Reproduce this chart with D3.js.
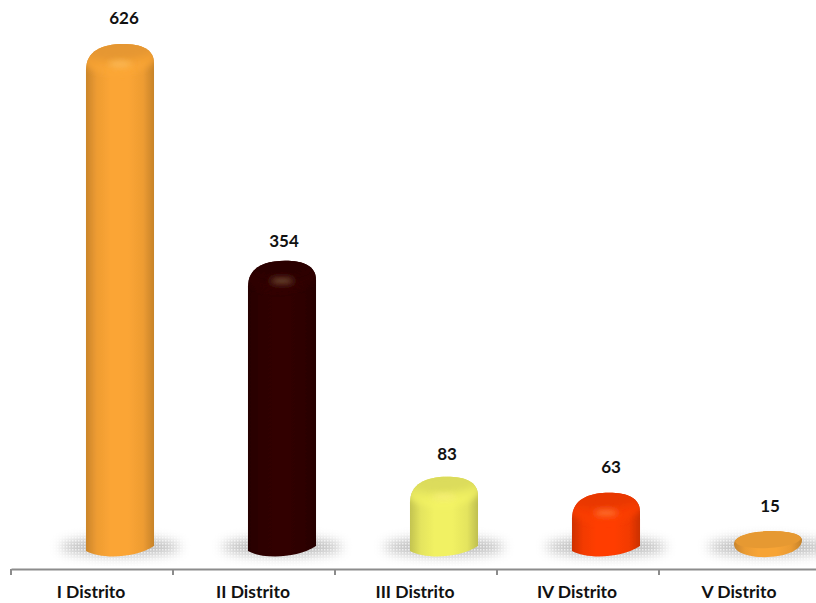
<!DOCTYPE html>
<html>
<head>
<meta charset="utf-8">
<script src="https://cdn.jsdelivr.net/npm/d3@7"></script>
<style>
html, body { margin: 0; padding: 0; background: #fff; }
svg { display: block; }
text { font-family: Lato, "Open Sans", sans-serif; font-weight: 700; fill: #111; }
</style>
</head>
<body>
<div id="graph"></div>
<script>
"use strict";
let categories = ["I Distrito", "II Distrito", "III Distrito", "IV Distrito", "V Distrito"];
let values = [626, 354, 83, 63, 15];
let barColors = ["#fba535", "#300000", "#f1f163", "#ff3d00", "#f7a436"];

let width = 816;
let height = 603;
let axisY = 569;

// the labels in the picture do not sit at one fixed distance from their bars
let labelNudgeX = [1, -1, 0, 2, -1];
let labelNudgeY = [-1, 5, 2, -1, 0];

let svg = d3.select("#graph")
	.append("svg")
	.attr("width", width)
	.attr("height", height);

let x = d3.scaleBand().domain(categories).range([11, 821]);
let y = d3.scaleLinear().domain([0, 626]).range([543, 44]);
let barWidth = x.bandwidth() * 0.42;
let barShift = 28; // the 3d bars sit right of the category centre

function barX(category)
{
	return x(category) + x.bandwidth() / 2 + barShift;
}

let defs = svg.append("defs");

let blur = defs.append("filter").attr("id", "blur6")
	.attr("x", "-30%").attr("y", "-100%").attr("width", "160%").attr("height", "300%");
blur.append("feGaussianBlur").attr("stdDeviation", 6);

let softBlur = defs.append("filter").attr("id", "blur3")
	.attr("x", "-50%").attr("y", "-100%").attr("width", "200%").attr("height", "300%");
softBlur.append("feGaussianBlur").attr("stdDeviation", 3);

let edgeBlur = defs.append("filter").attr("id", "blur1");
edgeBlur.append("feGaussianBlur").attr("stdDeviation", 0.6);

let dots = defs.append("pattern").attr("id", "dots")
	.attr("width", 3).attr("height", 3).attr("patternUnits", "userSpaceOnUse");
dots.append("rect").attr("width", 3).attr("height", 3).attr("fill", "#b8b8b8");
dots.append("rect").attr("width", 1.5).attr("height", 1.5).attr("fill", "#e6e6e6");

// side shading of each bar
categories.forEach(function (category, i)
{
	let base = d3.color(barColors[i]);
	let gradient = defs.append("linearGradient").attr("id", "side" + i);
	let stops = [
		[0, base.darker(0.6)],
		[0.16, base.darker(0.15)],
		[0.36, base],
		[0.62, base],
		[0.84, base.darker(0.15)],
		[1, base.darker(0.65)]
	];
	stops.forEach(function (s)
	{
		gradient.append("stop").attr("offset", s[0]).attr("stop-color", s[1]);
	});

	let shoulder = defs.append("linearGradient").attr("id", "shoulder" + i)
		.attr("x1", 0).attr("x2", 0).attr("y1", 0).attr("y2", 1);
	shoulder.append("stop").attr("offset", 0).attr("stop-color", base.darker(0.4));
	shoulder.append("stop").attr("offset", 0.6).attr("stop-color", base.darker(0.1));
	shoulder.append("stop").attr("offset", 1).attr("stop-color", base.brighter(0.08));
});

function isFlat(value)
{
	return y(0) - y(value) < 30;
}

function barPath(category, value)
{
	let cx = barX(category);
	let left = cx - barWidth / 2;
	let right = cx + barWidth / 2;
	let top = y(value);
	let base = y(0);
	if (isFlat(value))
	{
		return "M" + left + "," + (top + 13)
			+ "C" + left + "," + (top + 32) + " " + right + "," + (top + 30) + " " + right + "," + (top + 9)
			+ "C" + right + "," + (top + 3) + " " + (right - 14) + "," + top + " " + (cx + 3) + "," + top
			+ "C" + (cx - 18) + "," + top + " " + left + "," + (top + 5) + " " + left + "," + (top + 13)
			+ "Z";
	}
	let bottom = base + 16;
	return "M" + left + "," + (base + 8)
		+ "C" + (left + 14) + "," + bottom + " " + (right - 20) + "," + bottom + " " + right + "," + (base + 3)
		+ "L" + right + "," + (top + 19)
		+ "C" + right + "," + (top + 5) + " " + (right - 13) + "," + top + " " + (cx + 3) + "," + top
		+ "C" + (cx - 18) + "," + top + " " + left + "," + (top + 7) + " " + left + "," + (top + 26)
		+ "Z";
}

// floor shadows: a dither showing through a blurred mask
categories.forEach(function (category, i)
{
	let mask = defs.append("mask").attr("id", "floor" + i).attr("maskUnits", "userSpaceOnUse")
		.attr("x", 0).attr("y", 500).attr("width", width).attr("height", 80);
	mask.append("ellipse")
		.attr("cx", barX(category))
		.attr("cy", 547)
		.attr("rx", 60)
		.attr("ry", 9)
		.attr("fill", "#fff")
		.attr("filter", "url(#blur6)");
});

svg.append("g")
	.selectAll("rect")
	.data(categories)
	.enter().append("rect")
	.attr("x", function (d) { return barX(d) - 90; })
	.attr("y", 520)
	.attr("width", 180)
	.attr("height", 46)
	.attr("fill", "url(#dots)")
	.attr("mask", function (d, i) { return "url(#floor" + i + ")"; });

let bars = svg.append("g")
	.selectAll("g")
	.data(categories)
	.enter().append("g")
	.attr("filter", "url(#blur1)");

bars.each(function (category, i)
{
	let g = d3.select(this);
	let value = values[i];
	let cx = barX(category);
	let top = y(value);
	let path = barPath(category, value);
	let color = d3.color(barColors[i]);

	defs.append("clipPath").attr("id", "clip" + i).append("path").attr("d", path);

	g.append("path").attr("d", path).attr("fill", "url(#side" + i + ")");

	let inner = g.append("g").attr("clip-path", "url(#clip" + i + ")");

	if (isFlat(value))
	{
		// so short that only the top face and its rim show
		inner.append("ellipse")
			.attr("cx", cx)
			.attr("cy", top + 8.5)
			.attr("rx", barWidth / 2 - 1)
			.attr("ry", 8.5)
			.attr("transform", "rotate(-3 " + cx + " " + (top + 8.5) + ")")
			.attr("fill", color.darker(0.2));
		return;
	}

	// rounded shoulder, then darker top face and the soft highlight
	inner.append("ellipse")
		.attr("cx", cx)
		.attr("cy", top + 13)
		.attr("rx", barWidth / 2 + 4)
		.attr("ry", 16)
		.attr("transform", "rotate(-4 " + cx + " " + (top + 13) + ")")
		.attr("fill", "url(#shoulder" + i + ")")
		.attr("filter", "url(#blur3)");

	inner.append("ellipse")
		.attr("cx", cx + 1)
		.attr("cy", top + 7)
		.attr("rx", barWidth / 2 - 8)
		.attr("ry", 7)
		.attr("transform", "rotate(-4 " + (cx + 1) + " " + (top + 7) + ")")
		.attr("fill", color.darker(0.25))
		.attr("filter", "url(#blur3)");

	inner.append("ellipse")
		.attr("cx", cx)
		.attr("cy", top + 20)
		.attr("rx", 12)
		.attr("ry", 3)
		.attr("fill", d3.interpolateRgb(color, "#ffe9a0")(0.4))
		.attr("opacity", 0.85)
		.attr("filter", "url(#blur3)");
});

// value labels
svg.append("g")
	.selectAll("text")
	.data(categories)
	.enter().append("text")
	.attr("x", function (d, i) { return barX(d) + 3 + labelNudgeX[i]; })
	.attr("y", function (d, i) { return y(values[i]) - 19 + labelNudgeY[i]; })
	.attr("text-anchor", "middle")
	.attr("font-size", 17)
	.text(function (d, i) { return values[i]; });

// axis, with ticks on the band edges rather than the centres
let axis = svg.append("g")
	.attr("transform", "translate(0," + axisY + ")")
	.call(d3.axisBottom(x).tickSize(0).tickPadding(17));
axis.select(".domain").attr("stroke", "#8c8c8c").attr("stroke-width", 2);
axis.selectAll("text")
	.attr("font-size", 17.5)
	.attr("dx", -1)
	.style("font-family", "Lato, 'Open Sans', sans-serif");

axis.selectAll(".edge")
	.data(d3.range(0, categories.length + 1))
	.enter().append("line")
	.attr("class", "edge")
	.attr("x1", function (d) { return x.range()[0] + d * x.step(); })
	.attr("x2", function (d) { return x.range()[0] + d * x.step(); })
	.attr("y1", 0)
	.attr("y2", 6)
	.attr("stroke", "#8c8c8c")
	.attr("stroke-width", 2);
</script>
</body>
</html>
